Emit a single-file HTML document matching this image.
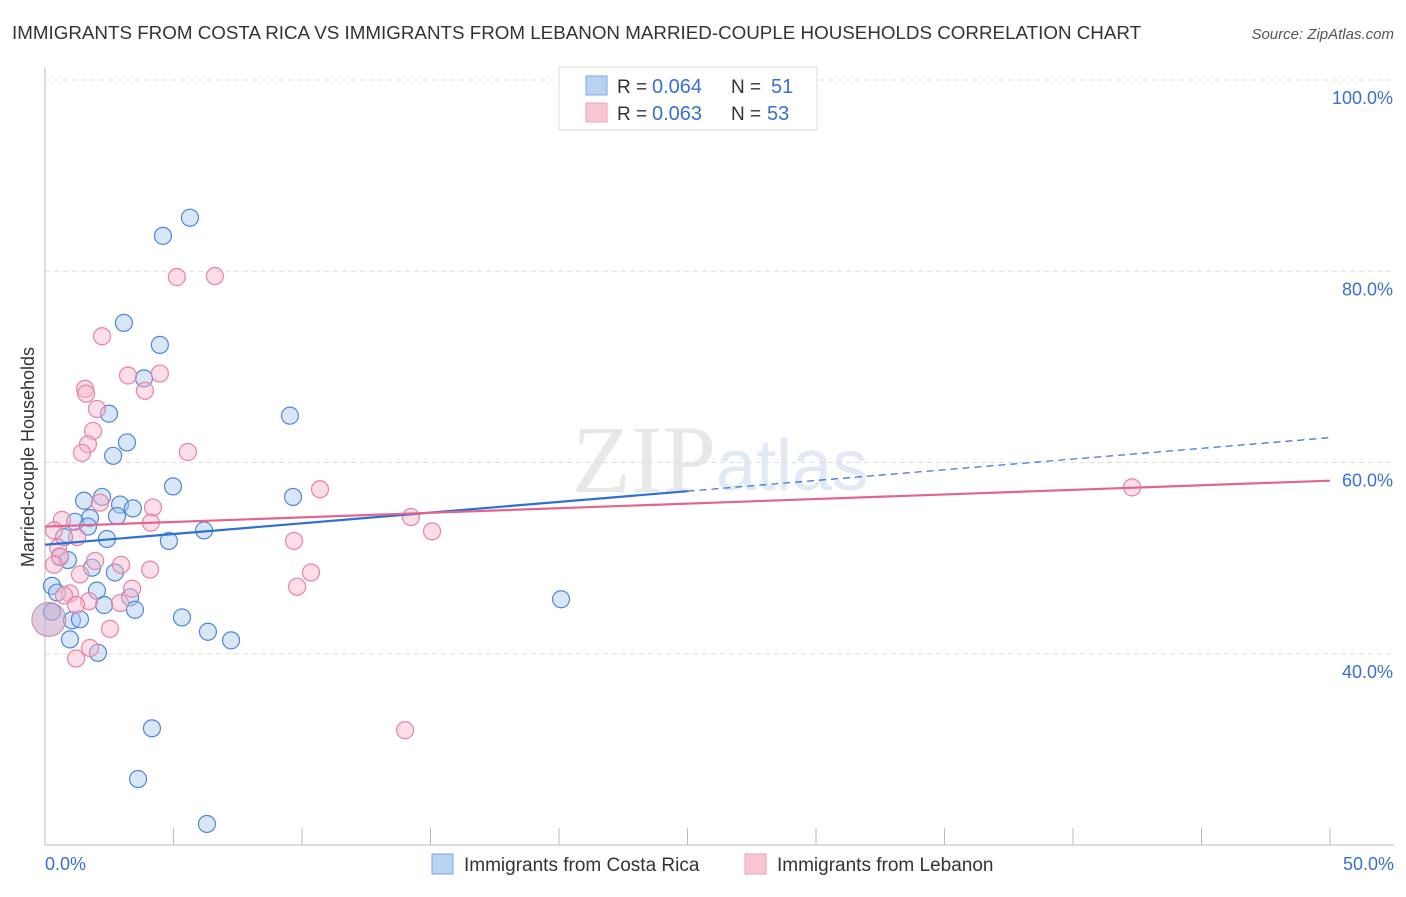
<!DOCTYPE html>
<html><head><meta charset="utf-8"><style>
body{margin:0;background:#fff;font-family:"Liberation Sans",sans-serif}
</style></head><body>
<svg id="c" width="1406" height="892" xmlns="http://www.w3.org/2000/svg">
<text x="12" y="39" font-size="18.8" fill="#333">IMMIGRANTS FROM COSTA RICA VS IMMIGRANTS FROM LEBANON MARRIED-COUPLE HOUSEHOLDS CORRELATION CHART</text>
<text x="1394" y="39" font-size="15" fill="#555" text-anchor="end" font-style="italic">Source: ZipAtlas.com</text>
<text x="716" y="492" font-size="96" fill="#e8e8e8" text-anchor="end" font-family="Liberation Serif">ZIP</text>
<text x="716" y="490" font-size="72" fill="#e0e9f4">atlas</text>
<g id="grid"></g>
<g id="axes"></g>
<g id="marks"></g>
<text transform="translate(34,457) rotate(-90)" font-size="18" fill="#333" text-anchor="middle">Married-couple Households</text>
<g>
<rect x="559" y="67" width="258" height="63" fill="#fff" stroke="#ddd"/>
<rect x="586" y="76" width="21" height="19" fill="#b9d2f3" stroke="#7fa8e0"/>
<rect x="586" y="103" width="21" height="19" fill="#f9c6d4" stroke="#eea0b8"/>
<text x="617" y="93" font-size="19" fill="#333">R =</text>
<text x="652" y="93" font-size="20" fill="#3a6fd0">0.064</text>
<text x="731" y="93" font-size="19" fill="#333">N =</text>
<text x="771" y="93" font-size="20" fill="#3a6fd0">51</text>
<text x="617" y="120" font-size="19" fill="#333">R =</text>
<text x="652" y="120" font-size="20" fill="#3a6fd0">0.063</text>
<text x="731" y="120" font-size="19" fill="#333">N =</text>
<text x="767" y="120" font-size="20" fill="#3a6fd0">53</text>
</g>
<g>
<rect x="432" y="854" width="21" height="20" fill="#b9d2f3" stroke="#7fa8e0"/>
<text x="464" y="871" font-size="19" fill="#333">Immigrants from Costa Rica</text>
<rect x="745" y="854" width="21" height="20" fill="#f9c6d4" stroke="#eea0b8"/>
<text x="777" y="871" font-size="19" fill="#333">Immigrants from Lebanon</text>
</g>
</svg>
<script>
const yTicks=[40,60,80,100];
const yTickLabels=["40.0%","60.0%","80.0%","100.0%"];
const xTickLabels=["0.0%","50.0%"];
const blueX=[5.64,4.59,3.07,4.47,3.85,2.49,9.53,3.19,2.65,4.98,9.65,1.52,2.22,2.92,3.42,2.80,1.75,1.17,1.67,2.41,6.19,4.82,0.74,0.58,0.89,1.83,2.72,0.27,0.47,2.02,3.31,2.30,3.50,5.33,1.05,1.36,6.34,0.97,7.24,2.06,20.08,4.16,3.62,6.30,0.27];
const blueY=[85.6,83.7,74.6,72.3,68.8,65.1,64.9,62.1,60.7,57.5,56.4,56.0,56.4,55.6,55.2,54.4,54.2,53.8,53.3,52.0,52.9,51.8,52.2,50.1,49.8,49.0,48.5,47.1,46.4,46.6,45.9,45.1,44.6,43.8,43.5,43.6,42.3,41.5,41.4,40.1,45.7,32.2,26.9,22.2,44.4];
const pinkX=[5.13,6.61,2.22,3.23,4.47,1.56,3.89,1.60,2.02,1.87,1.67,1.44,5.56,10.70,42.30,2.14,4.20,14.24,4.12,0.66,0.35,15.06,1.25,9.69,0.51,0.58,1.95,2.96,0.35,10.35,4.09,1.36,3.39,9.81,0.97,0.74,1.71,2.92,1.21,2.53,1.75,1.21,14.01];
const pinkY=[79.4,79.5,73.2,69.1,69.3,67.7,67.5,67.2,65.6,63.3,61.9,61.0,61.1,57.2,57.4,55.8,55.3,54.3,53.7,54.0,52.9,52.8,52.2,51.8,51.1,50.2,49.7,49.3,49.3,48.5,48.8,48.3,46.8,47.0,46.3,46.1,45.5,45.3,45.1,42.6,40.6,39.5,32.0];
const blueTrend=[51.4,62.6];
const pinkTrend=[53.3,58.1];
const blueSolidEnd=25;
const X0=45,X1=1330,Y0=845,Y1=80;
const xs=v=>X0+(v/50)*(X1-X0);
const ys=v=>Y0-(v-20)/80*(Y0-Y1);
const NS="http://www.w3.org/2000/svg";
function mk(p,t,a){const e=document.createElementNS(NS,t);for(const k in a)e.setAttribute(k,a[k]);p.appendChild(e);return e;}
const grid=document.getElementById('grid'),axes=document.getElementById('axes'),marks=document.getElementById('marks');
yTicks.forEach((t,i)=>{
 const l=mk(grid,'line',{x1:X0,x2:1394,y1:ys(t),y2:ys(t),stroke:'#ddd','stroke-dasharray':'5,4'});
 
 
 const tx=mk(axes,'text',{x:1393,y:ys(t)+24,'font-size':18,fill:'#3a6fd0','text-anchor':'end'});
 tx.textContent=yTickLabels[i];
 
 
});
const ax=mk(axes,'line',{x1:X0,x2:X0,y1:67,y2:Y0,stroke:'#bbb'});


const bx=mk(axes,'line',{x1:X0,x2:1394,y1:Y0,y2:Y0,stroke:'#bbb'});


for(let i=0;i<=10;i++){
 const t=mk(axes,'line',{x1:xs(i*5),x2:xs(i*5),y1:828,y2:Y0,stroke:'#bbb'});
 
 
}
[[0,'start',45],[50,'end',1394]].forEach((d,i)=>{
 const t=mk(axes,'text',{x:d[2],y:870,'font-size':18,fill:'#3a6fd0','text-anchor':d[1]});
 t.textContent=xTickLabels[i];
 
 
});
function pts(X,Y,fill,stroke,name){
 X.forEach((x,i)=>{const c=mk(marks,'circle',{cx:xs(x),cy:ys(Y[i]),r:8.5,fill:fill,'fill-opacity':0.45,stroke:stroke,'stroke-width':1.2});
 
 });
}
pts(blueX,blueY,'#a9c8f0','#4f86d8','costa-rica-point');
pts(pinkX,pinkY,'#f7b6c9','#e883a3','lebanon-point');
const big=mk(marks,'circle',{cx:xs(0.15),cy:ys(43.6),r:17,fill:'#c9a8c8','fill-opacity':0.6,stroke:'#c28ab0'});


const lerp=(a,x)=>a[0]+(a[1]-a[0])*x/50;
const bl=mk(marks,'line',{x1:xs(0),y1:ys(blueTrend[0]),x2:xs(blueSolidEnd),y2:ys(lerp(blueTrend,blueSolidEnd)),stroke:'#2e6fd6','stroke-width':2.2});


const bd=mk(marks,'line',{x1:xs(blueSolidEnd),y1:ys(lerp(blueTrend,blueSolidEnd)),x2:xs(50),y2:ys(blueTrend[1]),stroke:'#2e6fd6','stroke-width':1.2,'stroke-dasharray':'7,5'});


const pl=mk(marks,'line',{x1:xs(0),y1:ys(pinkTrend[0]),x2:xs(50),y2:ys(pinkTrend[1]),stroke:'#e2658f','stroke-width':2.2});


</script>
</body></html>
